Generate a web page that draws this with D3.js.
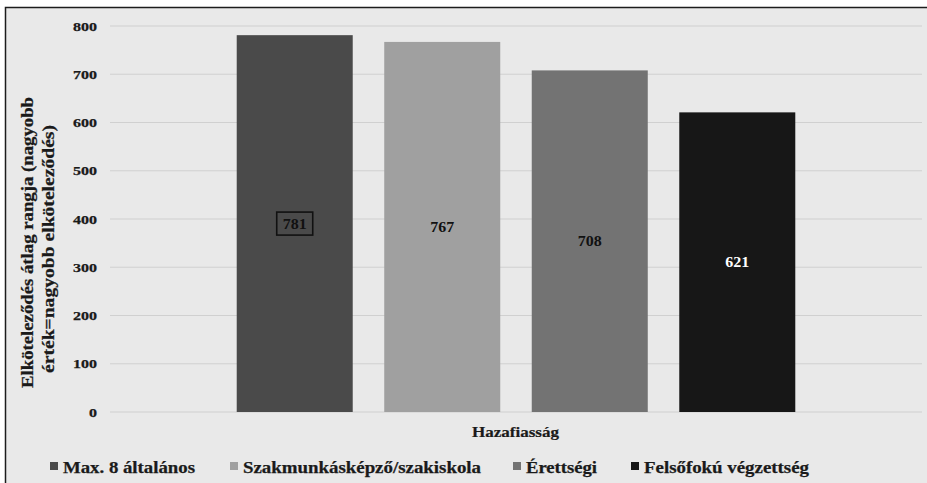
<!DOCTYPE html>
<html>
<head>
<meta charset="utf-8">
<script src="https://cdn.jsdelivr.net/npm/d3@7"></script>
<style>
  html, body { margin: 0; padding: 0; background: #ffffff; }
  svg { display: block; }
  text { font-family: "Liberation Serif", "Times New Roman", serif; font-weight: bold; }
</style>
</head>
<body>
<svg id="chart" width="927" height="483"></svg>
<script>
// Education level groups and their mean commitment rank
const series = ["Max. 8 általános", "Szakmunkásképző/szakiskola", "Érettségi", "Felsőfokú végzettség"];
const values = [781, 767, 708, 621];
const colors = ["#4a4a4a", "#a0a0a0", "#737373", "#171717"];
const labelColors = ["#111111", "#111111", "#111111", "#ffffff"];
const category = "Hazafiasság";
const yTicks = [0, 100, 200, 300, 400, 500, 600, 700, 800];
const yTitle = ["Elköteleződés átlag rangja (nagyobb", "érték=nagyobb elköteleződés)"];

const svg = d3.select("#chart");

// chart frame
svg.append("rect")
  .attr("x", 5.5).attr("y", 7.5)
  .attr("width", 927).attr("height", 483)
  .attr("fill", "#e9e9e9")
  .attr("stroke", "#1c1c1c").attr("stroke-width", 1.5);

const plot = { left: 110, right: 922, top: 26, bottom: 412 };

const y = d3.scaleLinear().domain([0, 800]).range([plot.bottom, plot.top]);
const x = d3.scaleBand().domain(series)
  .range([plot.left, plot.right])
  .paddingInner(0.2136)
  .paddingOuter(0.859);

// gridlines
svg.append("g")
  .selectAll("line")
  .data(yTicks)
  .join("line")
  .attr("x1", plot.left).attr("x2", plot.right)
  .attr("y1", d => y(d)).attr("y2", d => y(d))
  .attr("stroke", "#d0d0d0").attr("stroke-width", 1.2);

// y axis labels
const yAxis = svg.append("g")
  .attr("transform", `translate(${plot.left - 13},0)`)
  .call(d3.axisLeft(y).tickValues(yTicks).tickSize(0).tickPadding(0));
yAxis.select(".domain").remove();
yAxis.selectAll("text")
  .attr("font-size", 12.5)
  .attr("fill", "#1a1a1a")
  .attr("font-family", "Liberation Serif, serif")
  .attr("font-weight", "bold")
  .attr("stroke", "#1a1a1a").attr("stroke-width", 0.25)
  .attr("textLength", d => String(d).length * 8)
  .attr("lengthAdjust", "spacingAndGlyphs");

// bars
svg.append("g")
  .selectAll("rect")
  .data(series)
  .join("rect")
  .attr("x", d => x(d))
  .attr("y", (d, i) => y(values[i]))
  .attr("width", x.bandwidth())
  .attr("height", (d, i) => y(0) - y(values[i]))
  .attr("fill", (d, i) => colors[i]);

// value labels at bar centres
const labels = svg.append("g")
  .selectAll("g")
  .data(series)
  .join("g")
  .attr("transform", (d, i) => `translate(${x(d) + x.bandwidth() / 2},${(y(values[i]) + y(0)) / 2})`);
labels.append("text")
  .attr("text-anchor", "middle")
  .attr("dy", "0.35em")
  .attr("font-size", 15)
  .attr("textLength", 24)
  .attr("lengthAdjust", "spacingAndGlyphs")
  .attr("fill", (d, i) => labelColors[i])
  .text((d, i) => values[i]);
// highlighted first label
labels.filter((d, i) => i === 0)
  .append("rect")
  .attr("x", -18).attr("y", -11.5)
  .attr("width", 36).attr("height", 23)
  .attr("fill", "none")
  .attr("stroke", "#111111").attr("stroke-width", 1.6);

// x axis title
svg.append("text")
  .attr("x", 515.5).attr("y", 437)
  .attr("text-anchor", "middle")
  .attr("font-size", 14.5)
  .attr("textLength", 87)
  .attr("lengthAdjust", "spacingAndGlyphs")
  .attr("fill", "#1a1a1a")
  .attr("stroke", "#1a1a1a").attr("stroke-width", 0.2)
  .text(category);

// y axis title (two lines)
const titleX = [32.5, 53.5];
const titleCY = [242.5, 249];
const titleLen = [291, 248];
yTitle.forEach((t, i) => {
  svg.append("text")
    .attr("transform", `translate(${titleX[i]},${titleCY[i]}) rotate(-90)`)
    .attr("text-anchor", "middle")
    .attr("font-size", 16)
    .attr("textLength", titleLen[i])
    .attr("lengthAdjust", "spacingAndGlyphs")
    .attr("fill", "#1a1a1a")
    .attr("stroke", "#1a1a1a").attr("stroke-width", 0.25)
    .text(t);
});

// legend
const legendMarkX = [50, 230, 513, 631];
const legendTextLen = [132, 238, 71, 165];
const legend = svg.append("g")
  .selectAll("g")
  .data(series)
  .join("g")
  .attr("transform", (d, i) => `translate(${legendMarkX[i]},0)`);
legend.append("rect")
  .attr("x", 0).attr("y", 462)
  .attr("width", 8).attr("height", 8)
  .attr("fill", (d, i) => colors[i]);
legend.append("text")
  .attr("x", 13).attr("y", 473)
  .attr("font-size", 16)
  .attr("textLength", (d, i) => legendTextLen[i])
  .attr("lengthAdjust", "spacingAndGlyphs")
  .attr("fill", "#1a1a1a")
  .attr("stroke", "#1a1a1a").attr("stroke-width", 0.25)
  .text(d => d);
</script>
</body>
</html>
